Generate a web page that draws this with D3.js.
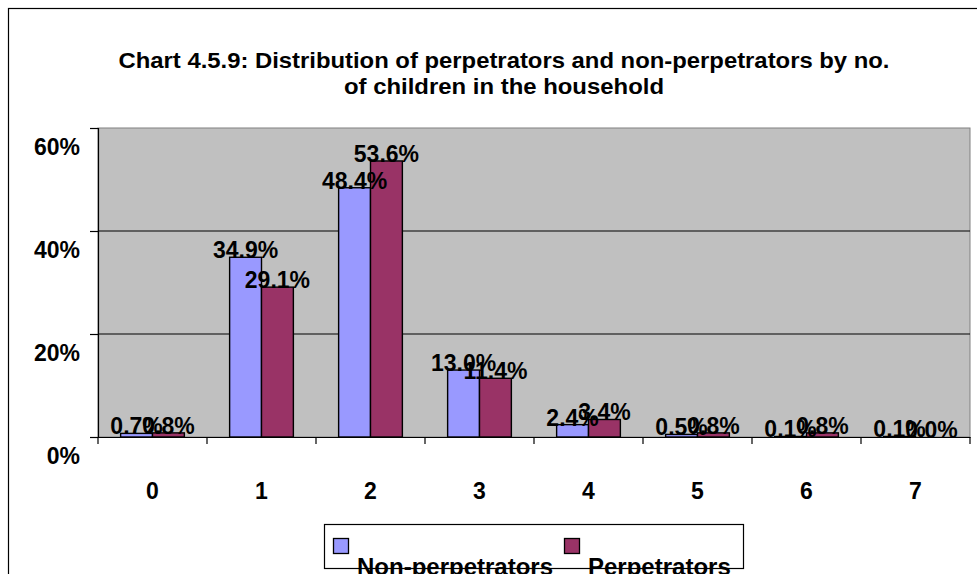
<!DOCTYPE html>
<html>
<head>
<meta charset="utf-8">
<script src="https://cdn.jsdelivr.net/npm/d3@7"></script>
<style>
  body { margin: 0; background: #fff; }
  svg text { font-family: "Liberation Sans", Arial, sans-serif; font-weight: bold; fill: #000; }
</style>
</head>
<body>
<div id="chart"></div>
<script>
var categories = ["0", "1", "2", "3", "4", "5", "6", "7"];
var seriesNames = ["Non-perpetrators", "Perpetrators"];
var nonPerpetrators = [0.7, 34.9, 48.4, 13.0, 2.4, 0.5, 0.1, 0.1];
var perpetrators = [0.8, 29.1, 53.6, 11.4, 3.4, 0.8, 0.8, 0.0];
var yTicks = [0, 20, 40, 60];
var titleLines = ["Chart 4.5.9: Distribution of perpetrators and non-perpetrators by no.",
                  "of children in the household"];
var titleWidths = [771, 320];

var width = 977, height = 574;
var colors = ["#9999FF", "#993366"];
var plot = { left: 98, right: 970, top: 128, bottom: 437 };

var svg = d3.select("#chart").append("svg")
    .attr("width", width)
    .attr("height", height);

// outer chart border (cut off at right/bottom like the original)
svg.append("rect")
    .attr("x", 8.5).attr("y", 8.5)
    .attr("width", width).attr("height", height)
    .attr("fill", "none").attr("stroke", "#000").attr("stroke-width", 1.2);

// title
svg.append("g").selectAll("text")
    .data(titleLines)
  .enter().append("text")
    .attr("text-anchor", "middle")
    .attr("x", 504)
    .attr("y", function(d, i) { return 68 + i * 26; })
    .attr("textLength", function(d, i) { return titleWidths[i]; })
    .attr("lengthAdjust", "spacingAndGlyphs")
    .style("font-size", "22px")
    .text(function(d) { return d; });

var x = d3.scaleBand()
    .domain(categories)
    .range([plot.left, plot.right]);

var x1 = d3.scaleBand()
    .domain(d3.range(seriesNames.length))
    .range([0, x.bandwidth()])
    .paddingOuter(0.71)
    .paddingInner(0);

var y = d3.scaleLinear()
    .domain([0, 60])
    .range([plot.bottom, plot.top]);

// plot background
svg.append("rect")
    .attr("x", plot.left).attr("y", plot.top)
    .attr("width", plot.right - plot.left).attr("height", plot.bottom - plot.top)
    .attr("fill", "#C0C0C0").attr("stroke", "#808080").attr("stroke-width", 1);

// gridlines
svg.append("g")
    .selectAll("line")
    .data(yTicks.filter(function(t) { return t > 0 && t < 60; }))
  .enter().append("line")
    .attr("x1", plot.left).attr("x2", plot.right)
    .attr("y1", function(d) { return y(d); })
    .attr("y2", function(d) { return y(d); })
    .attr("stroke", "#000").attr("stroke-width", 1);

var data = categories.map(function(c, i) {
    return { cat: c, values: [nonPerpetrators[i], perpetrators[i]] };
});

var groups = svg.append("g").selectAll("g")
    .data(data)
  .enter().append("g")
    .attr("transform", function(d) { return "translate(" + x(d.cat) + ",0)"; });

groups.selectAll("rect")
    .data(function(d) { return d.values; })
  .enter().append("rect")
    .attr("x", function(d, i) { return x1(i); })
    .attr("y", function(d) { return y(d); })
    .attr("width", x1.bandwidth())
    .attr("height", function(d) { return y(0) - y(d); })
    .attr("fill", function(d, i) { return colors[i]; })
    .attr("stroke", "#000").attr("stroke-width", 1.4);

groups.selectAll("text")
    .data(function(d) { return d.values; })
  .enter().append("text")
    .attr("x", function(d, i) { return x1(i) + x1.bandwidth() / 2; })
    .attr("y", function(d) { return y(d) + 1; })
    .attr("text-anchor", "middle")
    .style("font-size", "23px")
    .text(function(d) { return d.toFixed(1) + "%"; });

// y axis
var yAxis = svg.append("g")
    .attr("transform", "translate(" + plot.left + ",0)")
    .call(d3.axisLeft(y).tickValues(yTicks).tickSize(8).tickFormat(function(d) { return d + "%"; }));
yAxis.select(".domain").attr("stroke", "#000").attr("stroke-width", 1.2);
yAxis.selectAll(".tick line").attr("stroke", "#000").attr("stroke-width", 1.2);
yAxis.selectAll(".tick text")
    .attr("x", -18).attr("dy", "1.15em")
    .style("font-size", "23px").style("font-family", "Liberation Sans, Arial, sans-serif");

// x axis
var xAxis = svg.append("g")
    .attr("transform", "translate(0," + plot.bottom + ")")
    .call(d3.axisBottom(x).tickSize(0).tickFormat(function(d) { return d; }));
xAxis.select(".domain").attr("stroke", "#000").attr("stroke-width", 1.2);
xAxis.selectAll(".tick text")
    .attr("y", 62).attr("dy", 0)
    .style("font-size", "23px").style("font-family", "Liberation Sans, Arial, sans-serif");
xAxis.selectAll(".boundary")
    .data(d3.range(categories.length + 1))
  .enter().append("line")
    .attr("x1", function(i) { return plot.left + i * x.step(); })
    .attr("x2", function(i) { return plot.left + i * x.step(); })
    .attr("y1", 0).attr("y2", 7)
    .attr("stroke", "#000").attr("stroke-width", 1.2);

// legend
var legend = svg.append("g");
legend.append("rect")
    .attr("x", 324.5).attr("y", 524.5)
    .attr("width", 419).attr("height", 44)
    .attr("fill", "#fff").attr("stroke", "#000").attr("stroke-width", 1.2);
var legendX = [333, 564];
seriesNames.forEach(function(name, i) {
    legend.append("rect")
        .attr("x", legendX[i] + 0.5).attr("y", 538.5)
        .attr("width", 15).attr("height", 15)
        .attr("fill", colors[i]).attr("stroke", "#000").attr("stroke-width", 1.3);
    legend.append("text")
        .attr("x", legendX[i] + 24).attr("y", 575)
        .style("font-size", "24px")
        .text(name);
});
</script>
</body>
</html>
